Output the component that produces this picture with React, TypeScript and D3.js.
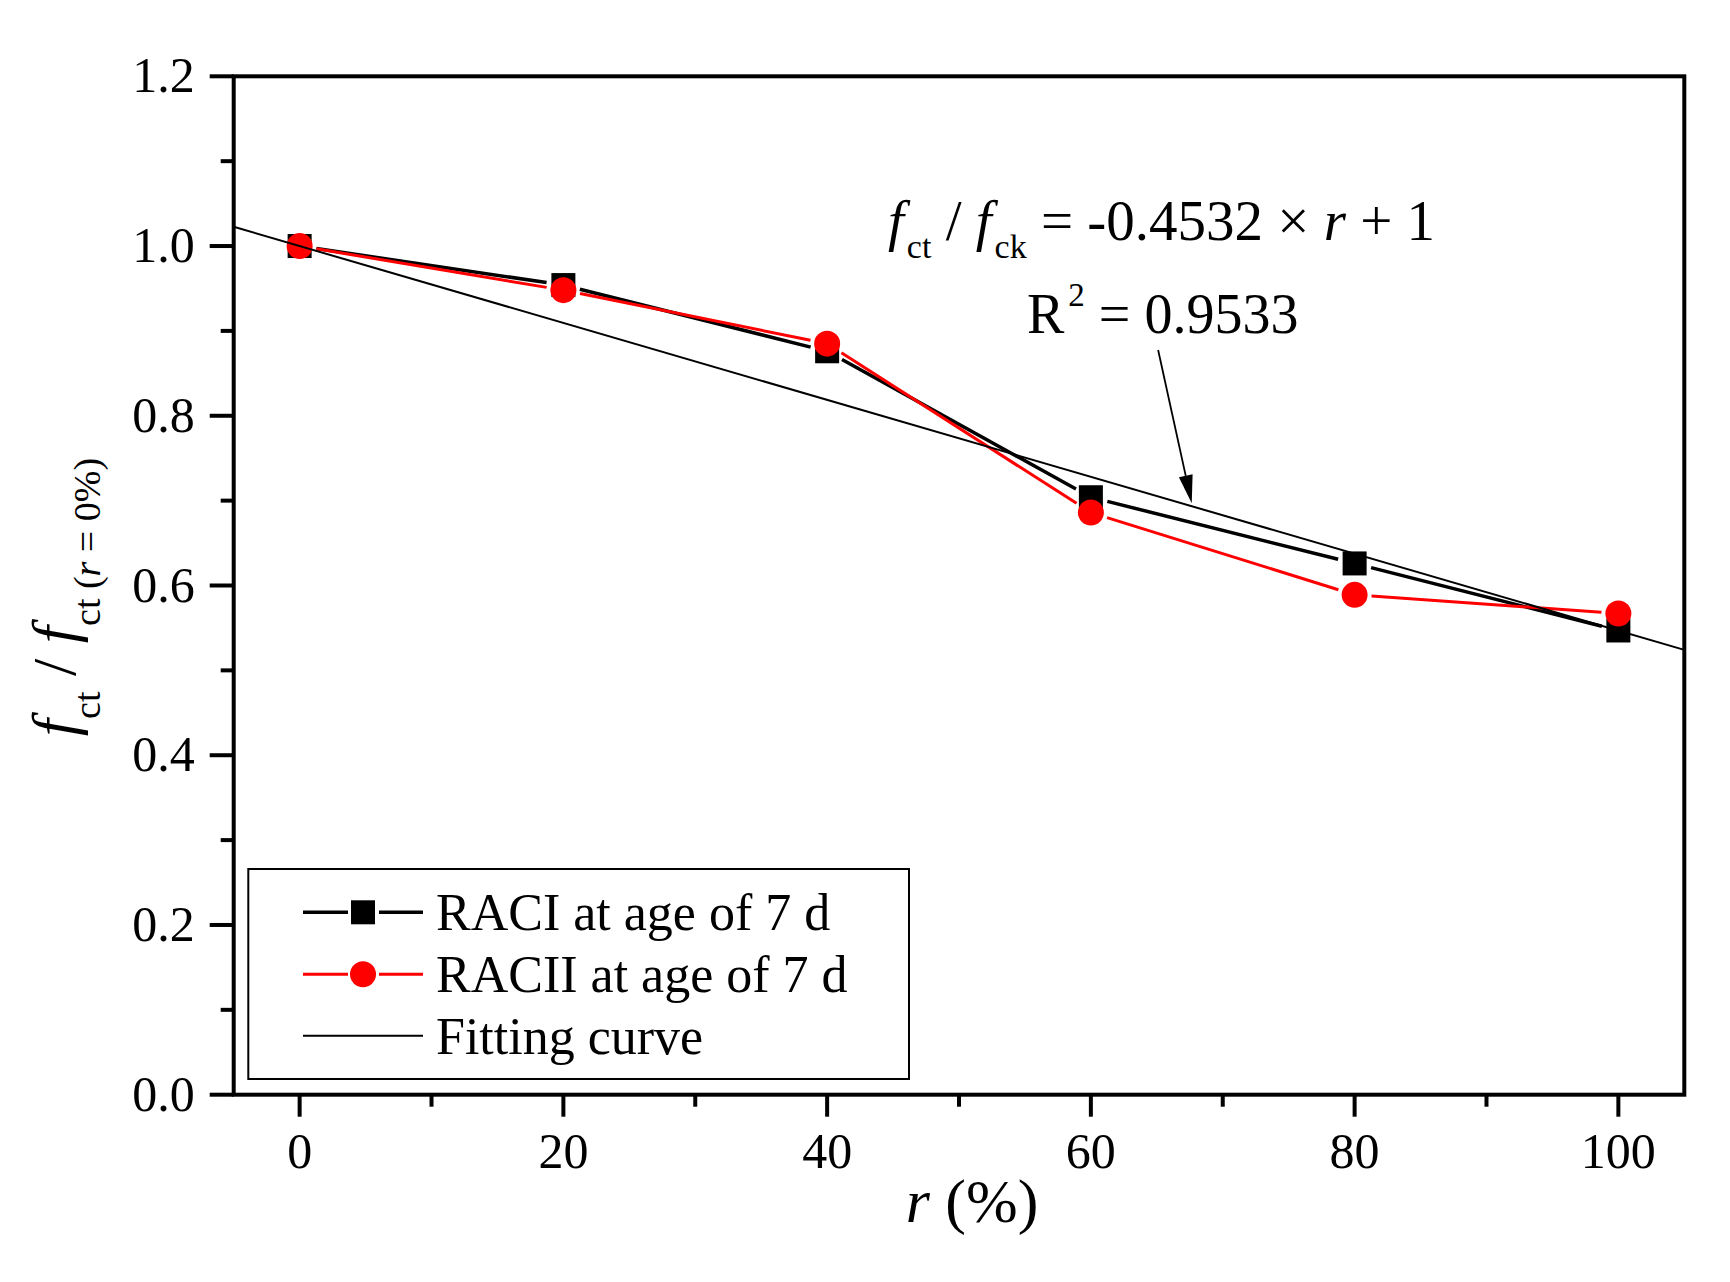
import React, { useRef, useEffect } from 'react';
import * as d3 from 'd3';

// replacement ratio r (%) and normalised splitting tensile strength
const ratio = [0, 20, 40, 60, 80, 100];
const raci = [1.0, 0.954, 0.876, 0.704, 0.626, 0.547];
const racii = [1.0, 0.948, 0.885, 0.686, 0.589, 0.567];

// linear fit f = slope * r + intercept (r as a fraction)
const fitSlope = -0.4532;
const fitIntercept = 1;
const fitR2 = 0.9533;

const xTicks = [0, 20, 40, 60, 80, 100];
const xMinorTicks = [10, 30, 50, 70, 90];
const yTicks = [0, 0.2, 0.4, 0.6, 0.8, 1.0, 1.2];
const yMinorTicks = [0.1, 0.3, 0.5, 0.7, 0.9, 1.1];

const legendLabels = ['RACI at age of 7 d', 'RACII at age of 7 d', 'Fitting curve'];

const FONT = 'Liberation Serif';

// shift: baseline shift in px (negative = down)
type Part = { t: string; italic?: boolean; size?: number; dx?: number; shift?: number };

const App = () => {
  const svgRef = useRef<SVGSVGElement | null>(null);

  useEffect(() => {
    if (!svgRef.current) return;
    document.body.style.margin = '0';

    const width = 1730;
    const height = 1282;
    const plot = { left: 233.7, right: 1684.3, top: 76.3, bottom: 1094.7 };

    const svg = d3.select(svgRef.current)
      .attr('width', width)
      .attr('height', height);
    svg.selectAll('*').remove();

    const x = d3.scaleLinear().domain([-5, 105]).range([plot.left, plot.right]);
    const y = d3.scaleLinear().domain([0, 1.2]).range([plot.bottom, plot.top]);

    svg.append('rect')
      .attr('width', width).attr('height', height).attr('fill', '#fff');

    // rich text made of tspans, each with its own font settings
    const richText = (
      sel: d3.Selection<SVGTextElement, unknown, null, undefined>,
      parts: Part[],
      baseSize: number,
    ) => {
      sel.attr('font-family', FONT).attr('font-size', baseSize);
      parts.forEach(p => {
        const ts = sel.append('tspan')
          .attr('font-family', FONT)
          .attr('font-size', p.size ?? baseSize)
          .attr('font-style', p.italic ? 'italic' : 'normal')
          .text(p.t);
        if (p.dx) ts.attr('dx', p.dx);
        if (p.shift) ts.attr('baseline-shift', p.shift);
      });
    };

    // ! DATA LINES (segments stop short of the markers, Origin style)
    const gap = 17;
    const drawSeries = (vals: number[], color: string, sw: number) => {
      const pts = ratio.map((r, i) => [x(r), y(vals[i])] as [number, number]);
      const segs = d3.pairs(pts).map(([a, b]) => {
        const dx = b[0] - a[0], dy = b[1] - a[1];
        const len = Math.hypot(dx, dy);
        const ux = dx / len, uy = dy / len;
        return [a[0] + ux * gap, a[1] + uy * gap, b[0] - ux * gap, b[1] - uy * gap];
      });
      svg.append('g').selectAll('line')
        .data(segs).enter().append('line')
        .attr('x1', d => d[0]).attr('y1', d => d[1])
        .attr('x2', d => d[2]).attr('y2', d => d[3])
        .attr('stroke', color).attr('stroke-width', sw);
      return pts;
    };

    const ptsA = drawSeries(raci, '#000', 3.5);
    const ptsB = drawSeries(racii, '#ff0000', 3);

    // ! MARKERS
    svg.append('g').selectAll('rect')
      .data(ptsA).enter().append('rect')
      .attr('x', d => d[0] - 12).attr('y', d => d[1] - 12)
      .attr('width', 24).attr('height', 24)
      .attr('fill', '#000');

    svg.append('g').selectAll('circle')
      .data(ptsB).enter().append('circle')
      .attr('cx', d => d[0]).attr('cy', d => d[1])
      .attr('r', 13)
      .attr('fill', '#ff0000');

    // ! FITTING LINE
    const fit = (r: number) => fitIntercept + fitSlope * r / 100;
    const xd = x.domain();
    svg.append('line')
      .attr('x1', x(xd[0])).attr('y1', y(fit(xd[0])))
      .attr('x2', x(xd[1])).attr('y2', y(fit(xd[1])))
      .attr('stroke', '#000').attr('stroke-width', 2);

    // ! FRAME + AXES
    svg.append('rect')
      .attr('x', plot.left).attr('y', plot.top)
      .attr('width', plot.right - plot.left).attr('height', plot.bottom - plot.top)
      .attr('fill', 'none').attr('stroke', '#000').attr('stroke-width', 4);

    const xAxis = svg.append('g');
    xAxis.selectAll('.major').data(xTicks).enter().append('line')
      .attr('x1', d => x(d)).attr('x2', d => x(d))
      .attr('y1', plot.bottom).attr('y2', plot.bottom + 22)
      .attr('stroke', '#000').attr('stroke-width', 4);
    xAxis.selectAll('.minor').data(xMinorTicks).enter().append('line')
      .attr('x1', d => x(d)).attr('x2', d => x(d))
      .attr('y1', plot.bottom).attr('y2', plot.bottom + 12)
      .attr('stroke', '#000').attr('stroke-width', 4);
    xAxis.selectAll('text').data(xTicks).enter().append('text')
      .attr('x', d => x(d)).attr('y', plot.bottom + 73)
      .attr('text-anchor', 'middle')
      .attr('font-family', FONT).attr('font-size', 50)
      .text(d => String(d));

    const yAxis = svg.append('g');
    yAxis.selectAll('.major').data(yTicks).enter().append('line')
      .attr('y1', d => y(d)).attr('y2', d => y(d))
      .attr('x1', plot.left).attr('x2', plot.left - 24)
      .attr('stroke', '#000').attr('stroke-width', 4);
    yAxis.selectAll('.minor').data(yMinorTicks).enter().append('line')
      .attr('y1', d => y(d)).attr('y2', d => y(d))
      .attr('x1', plot.left).attr('x2', plot.left - 13)
      .attr('stroke', '#000').attr('stroke-width', 4);
    yAxis.selectAll('text').data(yTicks).enter().append('text')
      .attr('x', plot.left - 39).attr('y', d => y(d) + 16)
      .attr('text-anchor', 'end')
      .attr('font-family', FONT).attr('font-size', 50)
      .text(d => d3.format('.1f')(d));

    // ! AXIS TITLES
    const xt = svg.append('text')
      .attr('x', 972).attr('y', 1222)
      .attr('text-anchor', 'middle');
    richText(xt, [{ t: 'r', italic: true }, { t: ' (%)' }], 62);

    const yt = svg.append('text')
      .attr('transform', 'translate(75,597) rotate(-90)')
      .attr('text-anchor', 'middle');
    richText(yt, [
      { t: 'f', italic: true },
      { t: 'ct', size: 38, shift: -25 },
      { t: ' / ' },
      { t: 'f', italic: true },
      { t: 'ct (', size: 38, shift: -25 },
      { t: 'r', size: 38, italic: true, shift: -25 },
      { t: ' = 0%)', size: 38, shift: -25 },
    ], 62);

    // ! EQUATION + R^2 ANNOTATION
    const eq = svg.append('text').attr('x', 888).attr('y', 240);
    richText(eq, [
      { t: 'f', italic: true },
      { t: 'ct', size: 34, dx: 3, shift: -18 },
      { t: ' / ' },
      { t: 'f', italic: true },
      { t: 'ck', size: 34, dx: 3, shift: -18 },
      { t: ` = ${fitSlope} × ` },
      { t: 'r', italic: true },
      { t: ` + ${fitIntercept}` },
    ], 57);

    const r2 = svg.append('text').attr('x', 1027).attr('y', 333);
    richText(r2, [
      { t: 'R' },
      { t: '2', size: 33, dx: 4, shift: 27 },
      { t: ` = ${fitR2}` },
    ], 56);

    // arrow pointing at the fitting line
    const a0: [number, number] = [x(65.1), y(0.8775)];
    const a1: [number, number] = [x(67.65), y(0.697)];
    const adx = a1[0] - a0[0], ady = a1[1] - a0[1];
    const alen = Math.hypot(adx, ady);
    const ux = adx / alen, uy = ady / alen;
    const headLen = 28, headW = 7;
    const base: [number, number] = [a1[0] - ux * headLen, a1[1] - uy * headLen];
    svg.append('line')
      .attr('x1', a0[0]).attr('y1', a0[1])
      .attr('x2', base[0]).attr('y2', base[1])
      .attr('stroke', '#000').attr('stroke-width', 1.8);
    svg.append('path')
      .attr('d', `M${a1[0]},${a1[1]} L${base[0] - uy * headW},${base[1] + ux * headW} L${base[0] + uy * headW},${base[1] - ux * headW} Z`)
      .attr('fill', '#000');

    // ! LEGEND
    const lg = svg.append('g');
    lg.append('rect')
      .attr('x', 248.3).attr('y', 869)
      .attr('width', 909 - 248.3).attr('height', 1079 - 869)
      .attr('fill', '#fff').attr('stroke', '#000').attr('stroke-width', 2);

    const rowY = [912.3, 974.3, 1035.7];
    const rows = lg.selectAll('g.row').data(legendLabels).enter().append('g')
      .attr('class', 'row')
      .attr('transform', (_, i) => `translate(0,${rowY[i]})`);

    rows.filter((_, i) => i < 2).each(function (_, i) {
      const g = d3.select(this);
      const color = i === 0 ? '#000' : '#ff0000';
      const sw = i === 0 ? 3.5 : 3;
      g.append('line').attr('x1', 303).attr('x2', 348).attr('y1', 0).attr('y2', 0)
        .attr('stroke', color).attr('stroke-width', sw);
      g.append('line').attr('x1', 379).attr('x2', 423).attr('y1', 0).attr('y2', 0)
        .attr('stroke', color).attr('stroke-width', sw);
      if (i === 0) {
        g.append('rect').attr('x', 351).attr('y', -12).attr('width', 24).attr('height', 24).attr('fill', '#000');
      } else {
        g.append('circle').attr('cx', 363).attr('cy', 0).attr('r', 13).attr('fill', '#ff0000');
      }
    });
    rows.filter((_, i) => i === 2).append('line')
      .attr('x1', 303).attr('x2', 423).attr('y1', 0).attr('y2', 0)
      .attr('stroke', '#000').attr('stroke-width', 2);

    rows.append('text')
      .attr('x', 436).attr('y', 18)
      .attr('font-family', FONT).attr('font-size', 52)
      .text(d => d);
  }, []);

  return (
    <svg ref={svgRef} style={{ position: 'absolute', left: 0, top: 0, display: 'block' }}></svg>
  );
};

export default App;
